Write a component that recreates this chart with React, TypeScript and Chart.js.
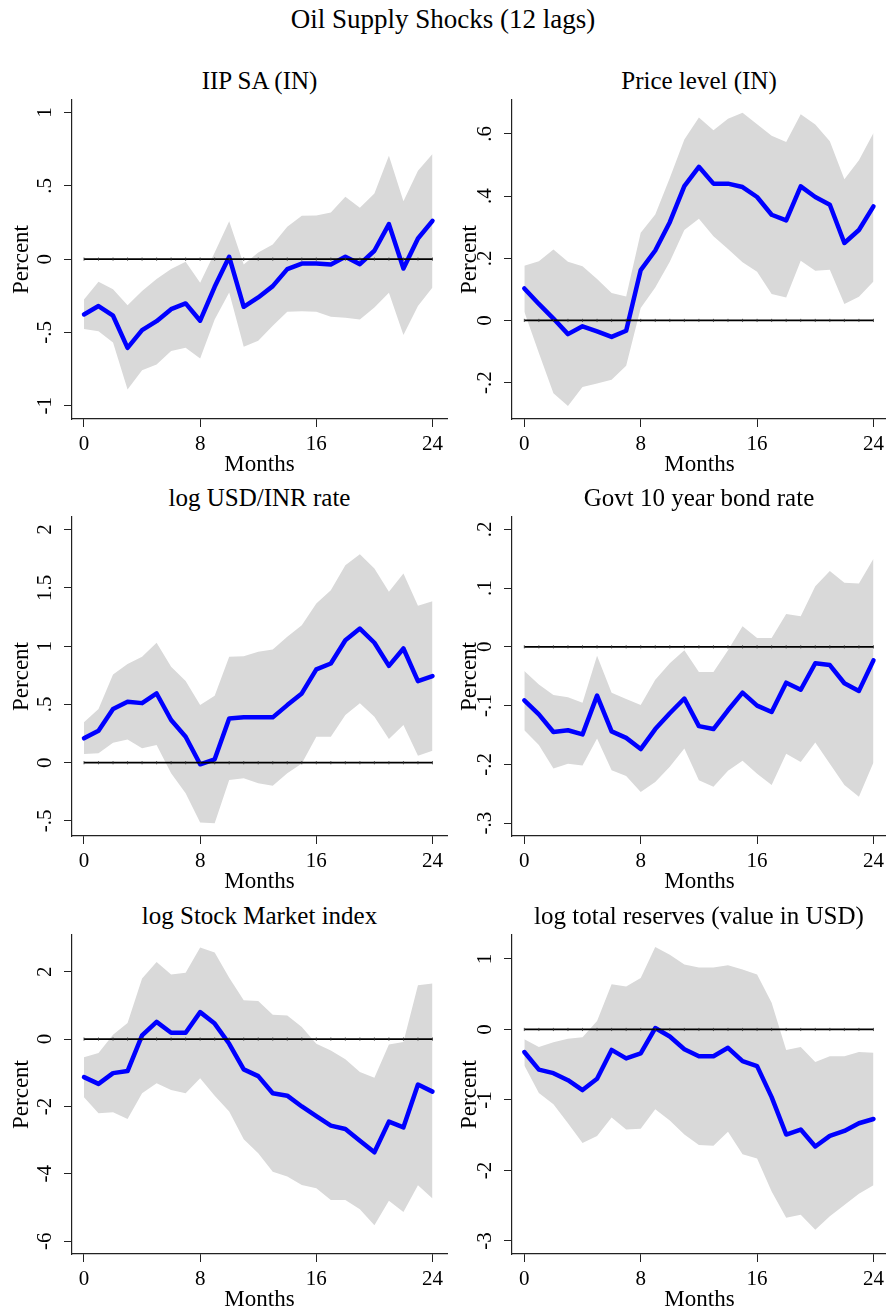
import React, { useEffect, useRef } from "react";
import { Chart, registerables } from "chart.js";

Chart.register(...registerables);

// ---------------- data ----------------
const mainTitle = "Oil Supply Shocks (12 lags)";
const panelTitles = [
  "IIP SA (IN)",
  "Price level (IN)",
  "log USD/INR rate",
  "Govt 10 year bond rate",
  "log Stock Market index",
  "log total reserves (value in USD)",
];
const xAxisTitle = "Months";
const yAxisTitle = "Percent";

const months = [0, 1, 2, 3, 4, 5, 6, 7, 8, 9, 10, 11, 12, 13, 14, 15, 16, 17, 18, 19, 20, 21, 22, 23, 24];
const xTicks = [0, 8, 16, 24];
const zeroRef = [0, 0, 0, 0, 0, 0, 0, 0, 0, 0, 0, 0, 0, 0, 0, 0, 0, 0, 0, 0, 0, 0, 0, 0, 0];

// IIP SA (IN)
const irfIIP = [-0.377, -0.32, -0.386, -0.605, -0.484, -0.423, -0.341, -0.302, -0.42, -0.189, 0.016, -0.325, -0.261, -0.184, -0.068, -0.03, -0.03, -0.036, 0.016, -0.034, 0.057, 0.239, -0.064, 0.141, 0.261];
const upperIIP = [-0.275, -0.155, -0.205, -0.314, -0.218, -0.136, -0.068, -0.018, -0.161, 0.045, 0.259, -0.036, 0.045, 0.1, 0.22, 0.295, 0.298, 0.318, 0.425, 0.35, 0.448, 0.705, 0.395, 0.602, 0.716];
const lowerIIP = [-0.477, -0.491, -0.568, -0.889, -0.757, -0.718, -0.627, -0.605, -0.677, -0.411, -0.227, -0.598, -0.557, -0.455, -0.359, -0.355, -0.359, -0.393, -0.4, -0.411, -0.33, -0.23, -0.518, -0.32, -0.193];
const yTicksIIP = [-1, -0.5, 0, 0.5, 1];
const yLabelsIIP = ["-1", "-.5", "0", ".5", "1"];

// Price level (IN)
const irfPrice = [0.103, 0.053, 0.006, -0.044, -0.019, -0.035, -0.053, -0.033, 0.162, 0.225, 0.316, 0.432, 0.494, 0.44, 0.44, 0.429, 0.397, 0.34, 0.322, 0.431, 0.397, 0.372, 0.249, 0.291, 0.367];
const upperPrice = [0.176, 0.19, 0.228, 0.189, 0.174, 0.133, 0.088, 0.077, 0.282, 0.341, 0.458, 0.582, 0.653, 0.612, 0.649, 0.668, 0.631, 0.594, 0.574, 0.663, 0.63, 0.576, 0.454, 0.515, 0.603];
const lowerPrice = [0.028, -0.105, -0.234, -0.275, -0.214, -0.203, -0.191, -0.146, 0.04, 0.106, 0.189, 0.291, 0.327, 0.271, 0.23, 0.187, 0.157, 0.085, 0.074, 0.192, 0.16, 0.163, 0.053, 0.076, 0.125];
const yTicksPrice = [-0.2, 0, 0.2, 0.4, 0.6];
const yLabelsPrice = ["-.2", "0", ".2", ".4", ".6"];

// log USD/INR rate
const irfFx = [0.209, 0.274, 0.46, 0.523, 0.511, 0.594, 0.366, 0.223, -0.014, 0.029, 0.38, 0.389, 0.389, 0.389, 0.494, 0.594, 0.8, 0.851, 1.051, 1.151, 1.029, 0.831, 0.98, 0.7, 0.743];
const upperFx = [0.346, 0.46, 0.757, 0.846, 0.909, 1.029, 0.823, 0.7, 0.494, 0.574, 0.909, 0.914, 0.951, 0.971, 1.08, 1.18, 1.366, 1.48, 1.694, 1.789, 1.666, 1.466, 1.623, 1.346, 1.386];
const lowerFx = [0.074, 0.08, 0.171, 0.2, 0.123, 0.151, -0.091, -0.263, -0.514, -0.52, -0.149, -0.134, -0.177, -0.197, -0.091, -0.006, 0.223, 0.223, 0.409, 0.509, 0.394, 0.203, 0.323, 0.06, 0.103];
const yTicksFx = [-0.5, 0, 0.5, 1, 1.5, 2];
const yLabelsFx = ["-.5", "0", ".5", "1", "1.5", "2"];

// Govt 10 year bond rate
const irfBond = [-0.091, -0.115, -0.145, -0.142, -0.149, -0.083, -0.144, -0.155, -0.174, -0.14, -0.113, -0.088, -0.135, -0.14, -0.108, -0.078, -0.1, -0.111, -0.061, -0.073, -0.028, -0.031, -0.062, -0.075, -0.023];
const upperBond = [-0.041, -0.064, -0.082, -0.086, -0.095, -0.015, -0.078, -0.089, -0.099, -0.056, -0.028, -0.006, -0.043, -0.043, -0.006, 0.035, 0.015, 0.015, 0.056, 0.052, 0.103, 0.129, 0.109, 0.108, 0.15];
const lowerBond = [-0.142, -0.167, -0.207, -0.199, -0.202, -0.156, -0.21, -0.22, -0.247, -0.23, -0.204, -0.173, -0.227, -0.238, -0.211, -0.194, -0.216, -0.235, -0.182, -0.196, -0.163, -0.199, -0.235, -0.255, -0.197];
const yTicksBond = [-0.3, -0.2, -0.1, 0, 0.1, 0.2];
const yLabelsBond = ["-.3", "-.2", "-.1", "0", ".1", ".2"];

// log Stock Market index
const irfStock = [-1.13, -1.33, -1.01, -0.95, 0.11, 0.51, 0.19, 0.19, 0.8, 0.46, -0.14, -0.9, -1.1, -1.61, -1.68, -2.0, -2.29, -2.57, -2.67, -3.02, -3.36, -2.45, -2.62, -1.35, -1.56];
const upperStock = [-0.54, -0.41, 0.13, 0.48, 1.8, 2.29, 1.92, 1.97, 2.72, 2.57, 1.82, 1.15, 1.13, 0.72, 0.7, 0.36, -0.14, -0.34, -0.6, -0.98, -1.15, -0.16, -0.09, 1.6, 1.65];
const lowerStock = [-1.73, -2.2, -2.17, -2.37, -1.61, -1.31, -1.51, -1.61, -1.16, -1.68, -2.15, -2.97, -3.39, -3.94, -4.08, -4.33, -4.43, -4.78, -4.78, -5.05, -5.53, -4.8, -5.13, -4.34, -4.73];
const yTicksStock = [-6, -4, -2, 0, 2];
const yLabelsStock = ["-6", "-4", "-2", "0", "2"];

// log total reserves (value in USD)
const irfRes = [-0.32, -0.57, -0.62, -0.72, -0.86, -0.7, -0.29, -0.41, -0.34, 0.02, -0.1, -0.28, -0.38, -0.38, -0.26, -0.45, -0.52, -0.96, -1.49, -1.42, -1.66, -1.51, -1.44, -1.33, -1.27];
const upperRes = [-0.14, -0.25, -0.18, -0.13, -0.11, 0.12, 0.64, 0.61, 0.73, 1.17, 1.06, 0.92, 0.88, 0.88, 0.91, 0.85, 0.78, 0.38, -0.29, -0.25, -0.46, -0.38, -0.38, -0.32, -0.33];
const lowerRes = [-0.51, -0.9, -1.06, -1.33, -1.61, -1.51, -1.25, -1.42, -1.41, -1.13, -1.29, -1.49, -1.64, -1.65, -1.45, -1.77, -1.83, -2.3, -2.67, -2.63, -2.84, -2.65, -2.49, -2.33, -2.21];
const yTicksRes = [-3, -2, -1, 0, 1];
const yLabelsRes = ["-3", "-2", "-1", "0", "1"];

// ---------------- styling / layout ----------------
const FONT = "'Liberation Serif', 'Times New Roman', serif";
const TICK_SIZE = 21;
const AXIS_TITLE_SIZE = 23;
const PANEL_TITLE_SIZE = 25;
const MAIN_TITLE_SIZE = 27;
const AXIS_COLOR = "#222222";
const BAND_COLOR = "#d9d9d9";
const IRF_COLOR = "#0000ff";
const TICK_LEN = 8;
const Y_LABEL_OFFSET = 26.2;

const ROW_TOPS = [100, 517, 935];
const PLOT_H = 319;
const TOP_PAD = 32;
const X_AXIS_H = 61;
const COLS = [
  { left: 0, width: 452, yAxisW: 72, padRight: 5, xMin: -0.826, xMax: 25.0, percentPad: 8.5 },
  { left: 443, width: 470, yAxisW: 69, padRight: 26, xMin: -0.847, xMax: 24.93, percentPad: 13.5 },
];

const panels = [
  { title: panelTitles[0], irf: irfIIP, upper: upperIIP, lower: lowerIIP, yTicks: yTicksIIP, yLabels: yLabelsIIP, yMin: -1.09, yMax: 1.085, row: 0, col: 0 },
  { title: panelTitles[1], irf: irfPrice, upper: upperPrice, lower: lowerPrice, yTicks: yTicksPrice, yLabels: yLabelsPrice, yMin: -0.317, yMax: 0.709, row: 0, col: 1 },
  { title: panelTitles[2], irf: irfFx, upper: upperFx, lower: lowerFx, yTicks: yTicksFx, yLabels: yLabelsFx, yMin: -0.629, yMax: 2.108, row: 1, col: 0 },
  { title: panelTitles[3], irf: irfBond, upper: upperBond, lower: lowerBond, yTicks: yTicksBond, yLabels: yLabelsBond, yMin: -0.322, yMax: 0.221, row: 1, col: 1 },
  { title: panelTitles[4], irf: irfStock, upper: upperStock, lower: lowerStock, yTicks: yTicksStock, yLabels: yLabelsStock, yMin: -6.38, yMax: 3.09, row: 2, col: 0 },
  { title: panelTitles[5], irf: irfRes, upper: upperRes, lower: lowerRes, yTicks: yTicksRes, yLabels: yLabelsRes, yMin: -3.185, yMax: 1.34, row: 2, col: 1 },
];

type PanelCfg = (typeof panels)[number];

const toXY = (vals: number[]) => months.map((m, i) => ({ x: m, y: vals[i] }));

function Panel({ p }: { p: PanelCfg }) {
  const ref = useRef<HTMLCanvasElement | null>(null);
  const col = COLS[p.col];
  const top = ROW_TOPS[p.row] - TOP_PAD;
  const height = TOP_PAD + PLOT_H + X_AXIS_H;

  useEffect(() => {
    const canvas = ref.current;
    if (!canvas) return;
    const ctx = canvas.getContext("2d")!;
    ctx.font = `normal normal ${TICK_SIZE}px ${FONT}`;
    const widest = Math.max(...p.yLabels.map((l) => ctx.measureText(l).width));
    const yTickPad = Y_LABEL_OFFSET - TICK_LEN - widest / 2;

    const chart = new Chart(canvas, {
      type: "line",
      data: {
        datasets: [
          {
            label: "lower",
            data: toXY(p.lower),
            borderWidth: 0,
            borderColor: "rgba(0,0,0,0)",
            pointRadius: 0,
            fill: false,
            order: 3,
          },
          {
            label: "upper",
            data: toXY(p.upper),
            borderWidth: 0,
            borderColor: "rgba(0,0,0,0)",
            backgroundColor: BAND_COLOR,
            pointRadius: 0,
            fill: { target: 0 },
            order: 2,
          },
          {
            label: "irf",
            data: toXY(p.irf),
            borderColor: IRF_COLOR,
            borderWidth: 4.5,
            borderJoinStyle: "round",
            borderCapStyle: "round",
            pointRadius: 0,
            fill: false,
            order: 1,
          },
          {
            label: "zero",
            data: toXY(zeroRef),
            borderColor: "#000000",
            borderWidth: 1.7,
            pointStyle: "line",
            pointRotation: 90,
            pointRadius: 1.6,
            pointBorderWidth: 0.8,
            pointBorderColor: "#333333",
            fill: false,
            order: 0,
          },
        ],
      },
      options: {
        animation: false,
        responsive: false,
        devicePixelRatio: 1,
        events: [],
        elements: { line: { tension: 0 } },
        layout: { padding: { top: TOP_PAD, right: col.padRight, left: 0, bottom: 0 } },
        plugins: {
          legend: { display: false },
          tooltip: { enabled: false },
          title: { display: false },
        },
        scales: {
          x: {
            type: "linear",
            min: col.xMin,
            max: col.xMax,
            afterBuildTicks: (s: any) => {
              s.ticks = xTicks.map((v) => ({ value: v }));
            },
            afterFit: (s: any) => {
              s.height = X_AXIS_H;
            },
            ticks: {
              autoSkip: false,
              maxRotation: 0,
              minRotation: 0,
              padding: 5,
              color: "#000",
              font: { family: FONT, size: TICK_SIZE },
              callback: (v: any) => String(v),
            },
            grid: {
              drawOnChartArea: false,
              drawTicks: true,
              tickLength: TICK_LEN,
              tickColor: AXIS_COLOR,
              tickWidth: 1,
            },
            border: { display: true, color: AXIS_COLOR, width: 1.2 },
            title: {
              display: true,
              text: xAxisTitle,
              color: "#000",
              font: { family: FONT, size: AXIS_TITLE_SIZE },
              padding: { top: 0, bottom: 1.2 },
            },
          },
          y: {
            type: "linear",
            min: p.yMin,
            max: p.yMax,
            afterBuildTicks: (s: any) => {
              s.ticks = p.yTicks.map((v) => ({ value: v }));
            },
            afterFit: (s: any) => {
              s.width = col.yAxisW;
            },
            ticks: {
              autoSkip: false,
              minRotation: 90,
              maxRotation: 90,
              crossAlign: "center",
              padding: yTickPad,
              color: "#000",
              font: { family: FONT, size: TICK_SIZE },
              callback: (v: any) => {
                const idx = p.yTicks.findIndex((t) => Math.abs(t - Number(v)) < 1e-9);
                return idx >= 0 ? p.yLabels[idx] : "";
              },
            },
            grid: {
              drawOnChartArea: false,
              drawTicks: true,
              tickLength: TICK_LEN,
              tickColor: AXIS_COLOR,
              tickWidth: 1,
            },
            border: { display: true, color: AXIS_COLOR, width: 1.2 },
            title: {
              display: true,
              text: yAxisTitle,
              color: "#000",
              font: { family: FONT, size: AXIS_TITLE_SIZE },
              padding: { top: col.percentPad, bottom: 0 },
            },
          },
        },
      },
    } as any);
    return () => chart.destroy();
  }, []);

  const areaLeft = col.left + col.yAxisW;
  const areaRight = Math.min(col.left + col.width - col.padRight, 886);
  const titleCx = (areaLeft + areaRight) / 2;
  const titleCy = ROW_TOPS[p.row] - 19;

  return (
    <>
      <div
        style={{
          position: "absolute",
          left: titleCx - 220,
          width: 440,
          top: titleCy - 16,
          height: 32,
          lineHeight: "32px",
          textAlign: "center",
          fontFamily: FONT,
          fontSize: PANEL_TITLE_SIZE,
          color: "#000",
          whiteSpace: "nowrap",
        }}
      >
        {p.title}
      </div>
      <canvas
        ref={ref}
        width={col.width}
        height={height}
        style={{ position: "absolute", left: col.left, top, width: col.width, height }}
      />
    </>
  );
}

export default function App() {
  return (
    <div
      style={{
        position: "absolute",
        left: 0,
        top: 0,
        width: 886,
        height: 1311,
        background: "#ffffff",
        overflow: "hidden",
      }}
    >
      <div
        style={{
          position: "absolute",
          left: 0,
          width: 886,
          top: 2,
          height: 34,
          lineHeight: "34px",
          textAlign: "center",
          fontFamily: FONT,
          fontSize: MAIN_TITLE_SIZE,
          color: "#000",
          whiteSpace: "nowrap",
        }}
      >
        {mainTitle}
      </div>
      {panels.map((p, i) => (
        <Panel key={i} p={p} />
      ))}
    </div>
  );
}
